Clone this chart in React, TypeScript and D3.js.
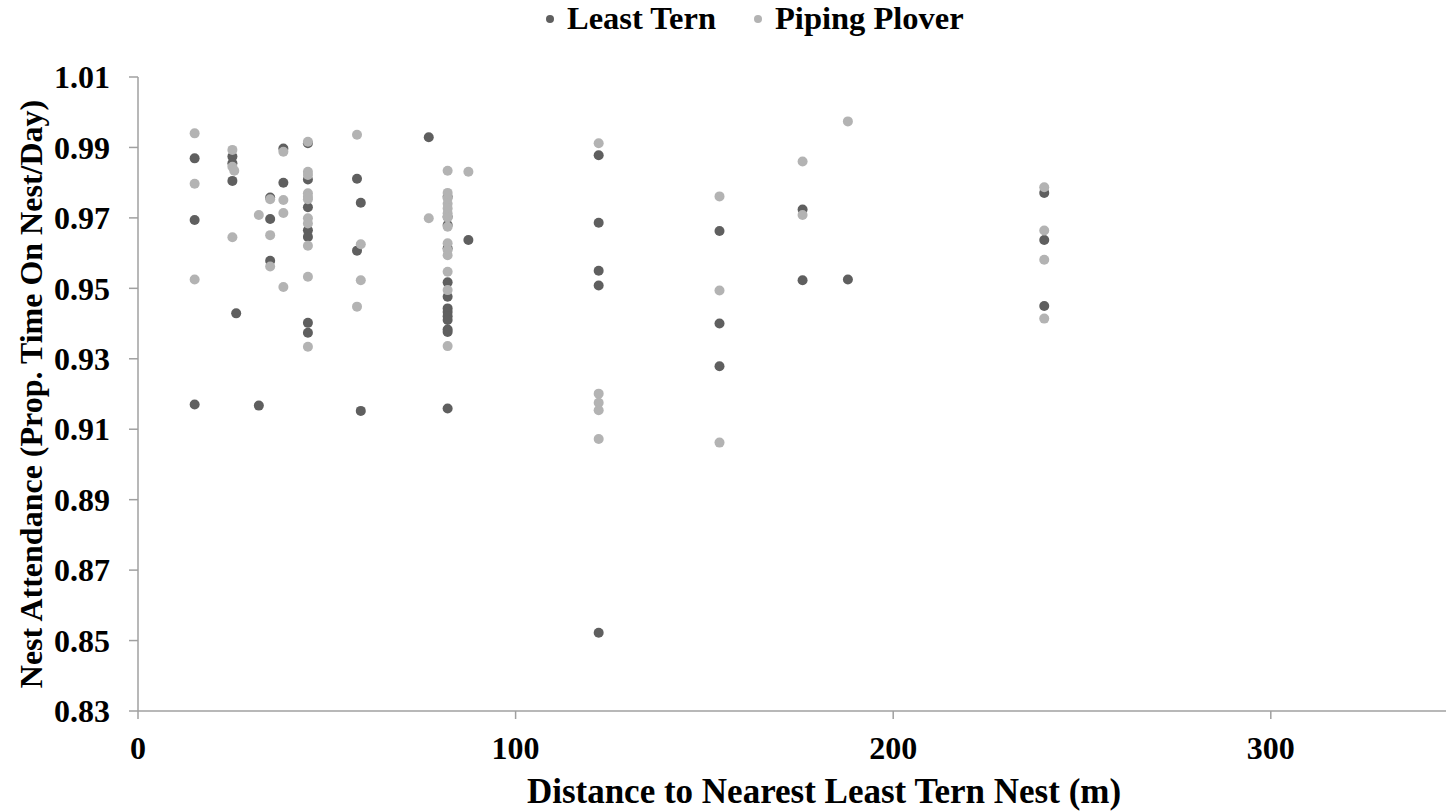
import React from "react";
import * as d3 from "d3";

const seriesNames = ["Least Tern", "Piping Plover"];
const seriesColors = ["#5f5f5f", "#b3b3b3"];

// Least Tern
const ternDistance = [
  15, 15, 15,
  25, 25, 25, 26,
  32,
  35, 35, 35,
  38.5, 38.5,
  45, 45, 45, 45, 45, 45, 45,
  58, 58,
  59, 59,
  77,
  82, 82, 82, 82, 82, 82, 82, 82, 82, 82, 82, 82, 82,
  87.5,
  122, 122, 122, 122, 122,
  154, 154, 154,
  176, 176,
  188,
  240, 240, 240,
];
const ternAttendance = [
  0.9869, 0.9694, 0.917,
  0.9874, 0.9855, 0.9805, 0.9429,
  0.9167,
  0.9758, 0.9697, 0.9578,
  0.9897, 0.98,
  0.9912, 0.9809, 0.973, 0.9665, 0.9646, 0.9402, 0.9374,
  0.9811, 0.9607,
  0.9743, 0.9152,
  0.9929,
  0.976, 0.9703, 0.968, 0.9614, 0.9517, 0.9476, 0.9443, 0.9433, 0.9421, 0.941, 0.9383, 0.9376, 0.9159,
  0.9637,
  0.9878, 0.9686, 0.955, 0.9508, 0.8522,
  0.9663, 0.94, 0.9279,
  0.9724, 0.9523,
  0.9525,
  0.9771, 0.9637, 0.945,
];

// Piping Plover
const ploverDistance = [
  15, 15, 15,
  25, 25, 25.5, 25,
  32,
  35, 35, 35,
  38.5, 38.5, 38.5, 38.5,
  45, 45, 45, 45, 45, 45, 45, 45, 45, 45, 45,
  58, 58,
  59, 59,
  77,
  82, 82, 82, 82, 82, 82, 82, 82, 82, 82, 82, 82, 82, 82,
  87.5,
  122, 122, 122, 122, 122,
  154, 154, 154,
  176, 176,
  188,
  240, 240, 240, 240,
];
const ploverAttendance = [
  0.994, 0.9797, 0.9525,
  0.9893, 0.9845, 0.9834, 0.9645,
  0.9708,
  0.9753, 0.9651, 0.9562,
  0.9888, 0.9751, 0.9714, 0.9504,
  0.9916, 0.9831, 0.9822, 0.977, 0.976, 0.9753, 0.9699, 0.9684, 0.9621, 0.9533, 0.9334,
  0.9936, 0.9448,
  0.9625, 0.9523,
  0.9699,
  0.9834, 0.9771, 0.9756, 0.974, 0.9727, 0.9713, 0.9701, 0.9675, 0.9628, 0.9609, 0.9594, 0.9547, 0.9495, 0.9336,
  0.9831,
  0.9912, 0.9201, 0.9175, 0.9154, 0.9072,
  0.9761, 0.9494, 0.9062,
  0.986, 0.9708,
  0.9974,
  0.9787, 0.9664, 0.9581, 0.9414,
];

const xTicks = [0, 100, 200, 300];
const yTicks = [0.83, 0.85, 0.87, 0.89, 0.91, 0.93, 0.95, 0.97, 0.99, 1.01];

const xTitle = "Distance to Nearest Least Tern Nest (m)";
const yTitle = "Nest Attendance (Prop. Time On Nest/Day)";

const W = 1446;
const H = 811;
const left = 138;
const top = 77;
const bottom = 711;
const FONT = "'Liberation Serif', 'Times New Roman', serif";
const AXIS = "#a0a0a0";

export default function App() {
  const x = d3.scaleLinear().domain([0, 350]).range([left, left + 3.5 * 377.6]);
  const y = d3.scaleLinear().domain([0.83, 1.01]).range([bottom, top]);
  const fmt = d3.format(".2f");

  const series = [
    { xs: ternDistance, ys: ternAttendance },
    { xs: ploverDistance, ys: ploverAttendance },
  ];

  const legendItems = [
    { cx: 550, tx: 567 },
    { cx: 758, tx: 775 },
  ];

  return (
    <div style={{ position: "fixed", left: 0, top: 0 }}>
      <svg width={W} height={H} style={{ display: "block", background: "#fff" }} fontFamily={FONT}>
        {/* legend */}
        {legendItems.map((l, i) => (
          <g key={i}>
            <circle cx={l.cx} cy={19} r={4} fill={seriesColors[i]} />
            <text x={l.tx} y={29} fontSize={32.5} fontWeight="bold" fill="#000">
              {seriesNames[i]}
            </text>
          </g>
        ))}

        {/* y axis */}
        <line x1={left} x2={left} y1={top} y2={bottom} stroke={AXIS} strokeWidth={1.5} />
        {yTicks.map((t) => (
          <g key={t}>
            <line x1={left - 9} x2={left} y1={y(t)} y2={y(t)} stroke={AXIS} strokeWidth={1.5} />
            <text
              x={110}
              y={y(t)}
              dy="0.35em"
              textAnchor="end"
              fontSize={32}
              fontWeight="bold"
              fill="#000"
            >
              {fmt(t)}
            </text>
          </g>
        ))}

        {/* x axis */}
        <line x1={left} x2={W} y1={bottom} y2={bottom} stroke={AXIS} strokeWidth={1.5} />
        {xTicks.map((t) => (
          <g key={t}>
            <line x1={x(t)} x2={x(t)} y1={bottom} y2={bottom + 8} stroke={AXIS} strokeWidth={1.5} />
            <text
              x={x(t)}
              y={759}
              textAnchor="middle"
              fontSize={32}
              fontWeight="bold"
              fill="#000"
            >
              {t}
            </text>
          </g>
        ))}

        {/* titles */}
        <text x={824} y={803} textAnchor="middle" fontSize={35} fontWeight="bold" fill="#000">
          {xTitle}
        </text>
        <text
          transform={`translate(42, ${(top + bottom) / 2}) rotate(-90)`}
          textAnchor="middle"
          fontSize={32}
          fontWeight="bold"
          fill="#000"
        >
          {yTitle}
        </text>

        {/* points */}
        {series.map((s, si) => (
          <g key={si}>
            {s.xs.map((d, i) => (
              <circle key={i} cx={x(d)} cy={y(s.ys[i])} r={5} fill={seriesColors[si]} />
            ))}
          </g>
        ))}
      </svg>
    </div>
  );
}
